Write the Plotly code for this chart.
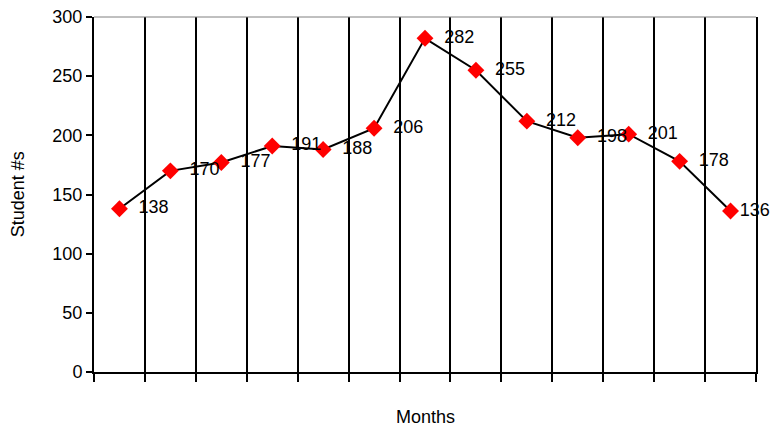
import plotly.graph_objects as go

# Monthly student counts
months = list(range(1, 14))
students = [138, 170, 177, 191, 188, 206, 282, 255, 212, 198, 201, 178, 136]

font_family = "Liberation Sans, Arial, sans-serif"

# value labels sit to the right of each marker; the last one is pulled in to fit
labels = ["  " + str(v) for v in students[:-1]] + [str(students[-1])]

fig = go.Figure()
fig.add_trace(go.Scatter(
    x=months,
    y=students,
    mode="lines+markers+text",
    line=dict(color="black", width=2),
    marker=dict(symbol="diamond", color="#ff0000", size=13, line=dict(width=0)),
    text=labels,
    textposition="middle right",
    textfont=dict(family=font_family, size=18, color="black"),
    cliponaxis=False,
    showlegend=False,
))

fig.update_layout(
    template="none",
    width=772,
    height=430,
    margin=dict(l=94, r=16, t=17, b=58),
    paper_bgcolor="white",
    plot_bgcolor="white",
    font=dict(family=font_family, size=18, color="black"),
    xaxis=dict(
        range=[0.5, 13.5],
        tick0=0.5,
        dtick=1,
        showticklabels=False,
        ticks="outside",
        ticklen=8,
        tickwidth=2,
        tickcolor="black",
        showgrid=True,
        gridcolor="black",
        gridwidth=2,
        showline=True,
        linecolor="black",
        linewidth=2,
        zeroline=False,
        automargin=False,
    ),
    yaxis=dict(
        range=[0, 300],
        dtick=50,
        ticks="outside",
        ticklen=6,
        tickwidth=2,
        tickcolor="black",
        showgrid=False,
        showline=True,
        linecolor="black",
        linewidth=2,
        mirror=True,
        zeroline=False,
        automargin=False,
        tickfont=dict(size=18),
    ),
    shapes=[dict(
        type="line", xref="paper", yref="paper",
        x0=0, x1=1, y0=1, y1=1,
        line=dict(color="#808080", width=1),
    )],
    annotations=[
        dict(text="Months", xref="paper", yref="paper", x=0.5, y=-0.128,
             xanchor="center", yanchor="middle", showarrow=False,
             font=dict(size=18)),
        dict(text="Student #s", xref="paper", yref="paper", x=-0.115, y=0.5,
             xanchor="center", yanchor="middle", textangle=-90, showarrow=False,
             font=dict(size=18)),
    ],
)

fig.write_html("out.html")
